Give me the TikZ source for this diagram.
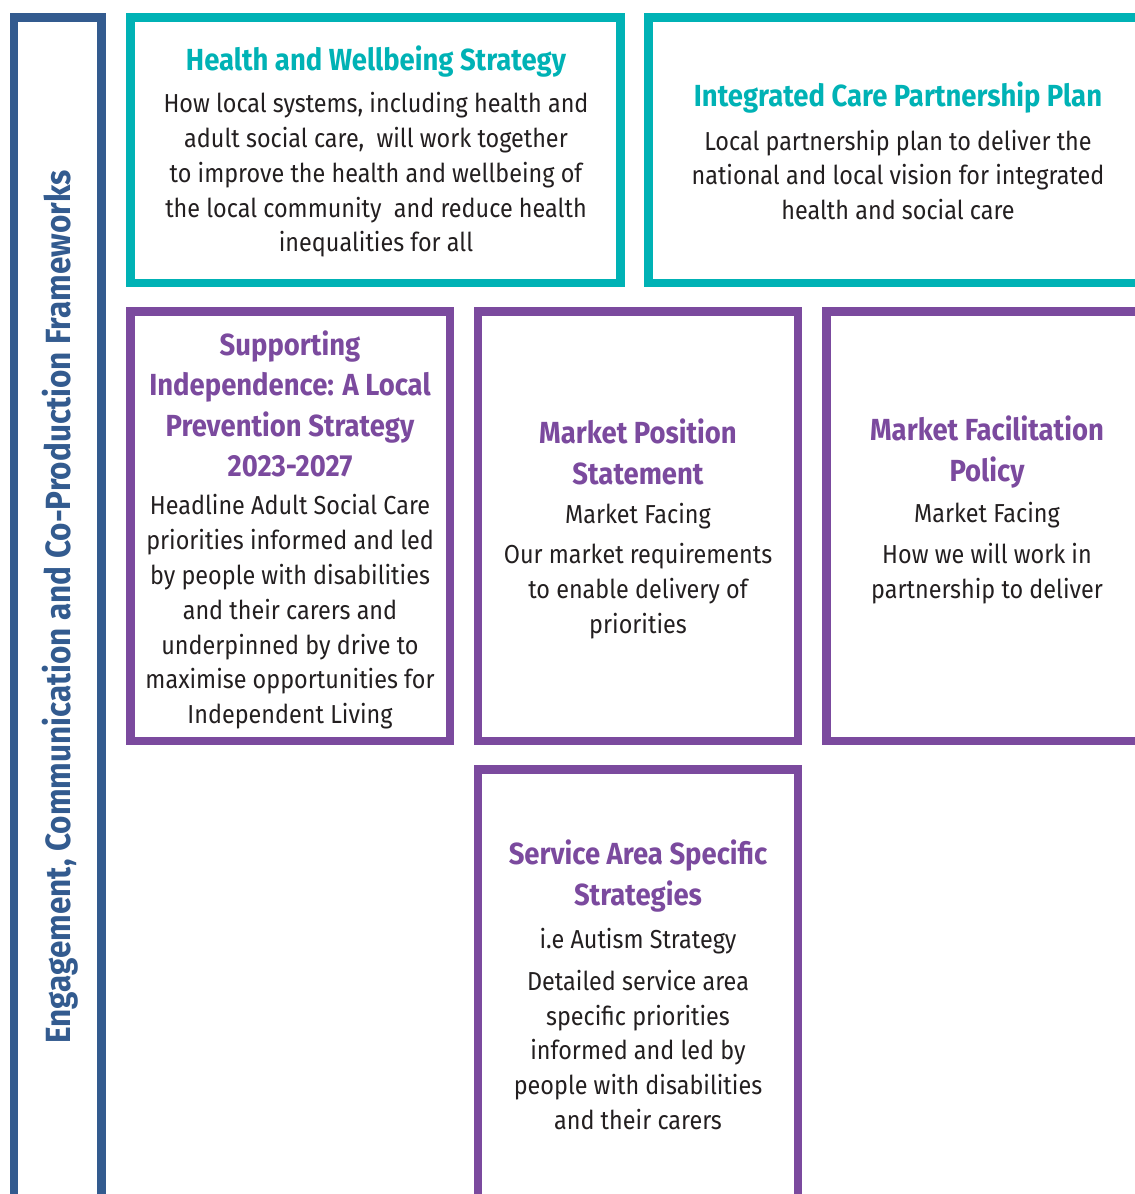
\documentclass[tikz,border=0pt]{standalone}
\usepackage{fontspec}
\newfontfamily\condf[FakeStretch=0.9]{Fira Sans}
\definecolor{teal}{HTML}{00B2B5}
\definecolor{purp}{HTML}{7B4A9E}
\definecolor{navy}{HTML}{335B8F}
\definecolor{ink}{HTML}{231F20}
\tikzset{
  frame/.style={line width=8.5pt},
  tealbox/.style={frame, draw=teal},
  purpbox/.style={frame, draw=purp},
  bluebox/.style={frame, draw=navy},
  ttl/.style={align=center, inner sep=0pt, font=\condf\bfseries\fontsize{30.5}{40.5}\selectfont},
  tealttl/.style={ttl, text=teal},
  purpttl/.style={ttl, text=purp},
  body/.style={align=center, inner sep=0pt, text=ink, font=\condf\fontsize{26}{34.8}\selectfont},
}
\begin{document}
\begin{tikzpicture}[x=1pt,y=-1pt]
\useasboundingbox (0,0) rectangle (1135,1194);
\clip (0,0) rectangle (1135,1194);
% left frame
\draw[bluebox] (14,1210) -- (14,17.5) -- (101.5,17.5) -- (101.5,1210);
\node[rotate=90, inner sep=0pt, text=navy, font=\condf\bfseries\fontsize{35}{40}\selectfont] (side) at (60,607) {Engagement, Communication and Co-Production Frameworks};
% top row
\draw[tealbox] (130.5,17.5) rectangle (620.5,283);
\draw[tealbox] (1160,17.5) -- (648.5,17.5) -- (648.5,283) -- (1160,283);
\node[tealttl] (hwt) at (376,62) {Health and Wellbeing Strategy};
\node[body] (hwb) at (376,175) {How local systems, including health and\\adult social care,\ \ will work together\\to improve the health and wellbeing of\\the local community\ \ and reduce health\\inequalities for all};
\node[tealttl] (ict) at (898,98) {Integrated Care Partnership Plan};
\node[body] (icb) at (898,175) {Local partnership plan to deliver the\\national and local vision for integrated\\health and social care};
% middle row
\draw[purpbox] (130.5,311.5) rectangle (450,741);
\draw[purpbox] (478,311.5) rectangle (798,741);
\draw[purpbox] (1160,311.5) -- (826.5,311.5) -- (826.5,741) -- (1160,741);
\node[purpttl] (sit) at (290,404) {Supporting\\Independence: A Local\\Prevention Strategy\\2023-2027};
\node[body] (sib) at (290,612) {Headline Adult Social Care\\priorities informed and led\\by people with disabilities\\and their carers and\\underpinned by drive to\\maximise opportunities for\\Independent Living};
\node[purpttl] (mpt) at (638,452) {Market Position\\Statement};
\node[body] (mpb) at (638,571) {Market Facing\\[6pt]Our market requirements\\to enable delivery of\\priorities};
\node[purpttl] (mft) at (987,452) {Market Facilitation\\Policy};
\node[body] (mfb) at (987,553) {Market Facing\\[6pt]How we will work in\\partnership to deliver};
% bottom
\draw[purpbox] (478,1210) -- (478,769.5) -- (798,769.5) -- (798,1210);
\node[purpttl] (sat) at (638,876) {Service Area Specific\\Strategies};
\node[body] (sab) at (638,1029) {i.e Autism Strategy\\[7pt]Detailed service area\\specific priorities\\informed and led by\\people with disabilities\\and their carers};
\end{tikzpicture}
\end{document}
